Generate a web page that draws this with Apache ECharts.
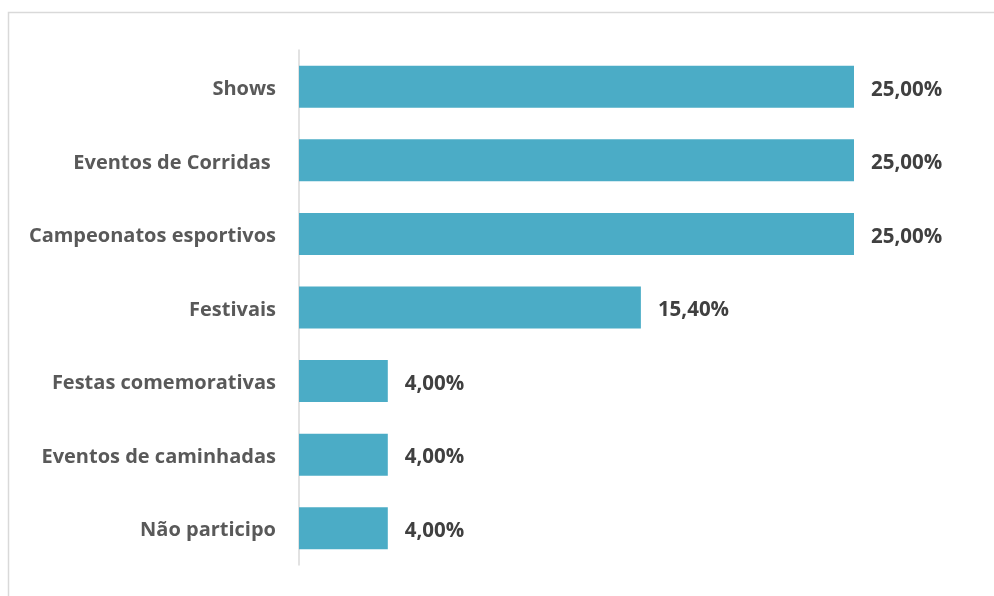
<!DOCTYPE html>
<html>
<head>
<meta charset="utf-8">
<script src="https://cdn.jsdelivr.net/npm/echarts@6/dist/echarts.min.js"></script>
<style>
  html, body { margin: 0; padding: 0; background: #fff; }
  #chart { width: 994px; height: 596px; }
</style>
</head>
<body>
<div id="chart"></div>
<script>
// Event types, listed top to bottom
const categories = [
  'Shows',
  'Eventos de Corridas ',
  'Campeonatos esportivos',
  'Festivais',
  'Festas comemorativas',
  'Eventos de caminhadas',
  'Não participo'
];
// Share of respondents (%)
const values = [25.0, 25.0, 25.0, 15.4, 4.0, 4.0, 4.0];

const chart = echarts.init(document.getElementById('chart'));
const fontFamily = '"Open Sans", sans-serif';

chart.setOption({
  animation: false,
  graphic: [{
    type: 'rect',
    shape: { x: 8.5, y: 12.5, width: 1000, height: 600 },
    style: { fill: 'none', stroke: '#d9d9d9', lineWidth: 1.5 },
    silent: true
  }],
  grid: { left: 299, right: 140, top: 50, bottom: 31 },
  xAxis: {
    type: 'value',
    min: 0,
    max: 25,
    show: false
  },
  yAxis: {
    type: 'category',
    data: categories,
    inverse: true,
    axisLine: { show: true, lineStyle: { color: '#d9d9d9', width: 1.5 } },
    axisTick: { show: false },
    axisLabel: {
      margin: 23,
      formatter: v => '{c|' + v + '}',
      rich: {
        c: {
          color: '#595959',
          fontSize: 20,
          fontWeight: 'bold',
          fontFamily: fontFamily,
          padding: [5, 0, 0, 0]
        }
      }
    }
  },
  series: [{
    type: 'bar',
    data: values,
    barWidth: 42,
    itemStyle: { color: '#4bacc6' },
    label: {
      show: true,
      position: 'right',
      distance: 17,
      offset: [0, 3],
      color: '#404040',
      fontSize: 20.5,
      fontWeight: 'bold',
      fontFamily: fontFamily,
      formatter: p => p.value.toFixed(2).replace('.', ',') + '%'
    }
  }]
});
</script>
</body>
</html>
